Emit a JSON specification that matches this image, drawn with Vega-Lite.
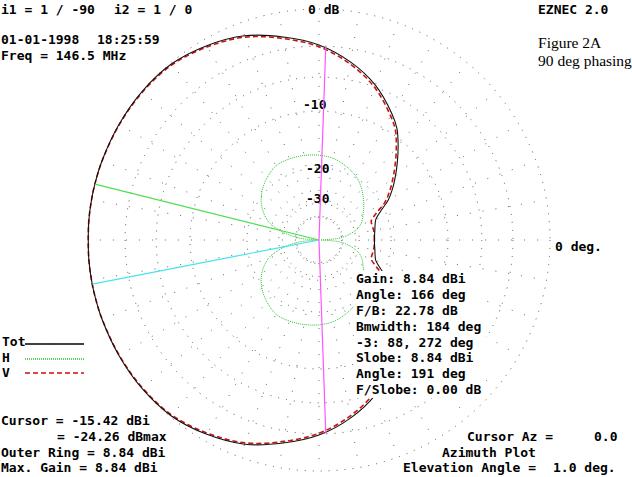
{
  "$schema": "https://vega.github.io/schema/vega-lite/v6.json",
  "width": 632,
  "height": 477,
  "autosize": {"type": "fit", "contains": "padding"},
  "padding": 0,
  "background": "white",
  "config": {"view": {"stroke": null}},
  "datasets": {
    "pattern": [
      {"az": 0, "tot": -24.5, "v": -24.5, "h": -80},
      {"az": 5, "tot": -24.4, "v": -24.48, "h": -42},
      {"az": 10, "tot": -24.1, "v": -24.47, "h": -35},
      {"az": 15, "tot": -23.7, "v": -24.59, "h": -31},
      {"az": 20, "tot": -23.0, "v": -24.44, "h": -28.5},
      {"az": 25, "tot": -21.0, "v": -22.26, "h": -27},
      {"az": 30, "tot": -18.2, "v": -18.99, "h": -26},
      {"az": 35, "tot": -16.2, "v": -16.85, "h": -24.8},
      {"az": 40, "tot": -14.4, "v": -14.96, "h": -23.6},
      {"az": 45, "tot": -12.6, "v": -13.07, "h": -22.5},
      {"az": 50, "tot": -10.8, "v": -11.2, "h": -21.4},
      {"az": 55, "tot": -9.1, "v": -9.43, "h": -20.4},
      {"az": 60, "tot": -7.9, "v": -8.2, "h": -19.6},
      {"az": 70, "tot": -5.8, "v": -6.04, "h": -18.5},
      {"az": 80, "tot": -4.2, "v": -4.4, "h": -17.6},
      {"az": 90, "tot": -2.9, "v": -3.06, "h": -17.2},
      {"az": 100, "tot": -1.95, "v": -2.09, "h": -17.0},
      {"az": 110, "tot": -1.05, "v": -1.16, "h": -16.9},
      {"az": 120, "tot": -0.5, "v": -0.6, "h": -17.0},
      {"az": 130, "tot": -0.1, "v": -0.17, "h": -18.0},
      {"az": 140, "tot": 0, "v": -0.05, "h": -19.4},
      {"az": 150, "tot": 0, "v": -0.03, "h": -21.5},
      {"az": 160, "tot": 0, "v": -0.01, "h": -25},
      {"az": 166, "tot": 0, "v": 0, "h": -29.5},
      {"az": 170, "tot": 0, "v": 0, "h": -34},
      {"az": 175, "tot": 0, "v": 0, "h": -44},
      {"az": 180, "tot": -0.02, "v": -0.02, "h": -80},
      {"az": 185, "tot": 0, "v": 0, "h": -44},
      {"az": 190, "tot": 0, "v": 0, "h": -34},
      {"az": 194, "tot": 0, "v": 0, "h": -29.5},
      {"az": 200, "tot": 0, "v": -0.01, "h": -25},
      {"az": 210, "tot": 0, "v": -0.03, "h": -21.5},
      {"az": 220, "tot": 0, "v": -0.05, "h": -19.4},
      {"az": 230, "tot": -0.1, "v": -0.17, "h": -18.0},
      {"az": 240, "tot": -0.5, "v": -0.6, "h": -17.0},
      {"az": 250, "tot": -1.05, "v": -1.16, "h": -16.9},
      {"az": 260, "tot": -1.95, "v": -2.09, "h": -17.0},
      {"az": 270, "tot": -2.9, "v": -3.06, "h": -17.2},
      {"az": 280, "tot": -4.2, "v": -4.4, "h": -17.6},
      {"az": 290, "tot": -5.8, "v": -6.04, "h": -18.5},
      {"az": 300, "tot": -7.9, "v": -8.2, "h": -19.6},
      {"az": 305, "tot": -9.1, "v": -9.43, "h": -20.4},
      {"az": 310, "tot": -10.8, "v": -11.2, "h": -21.4},
      {"az": 315, "tot": -12.6, "v": -13.07, "h": -22.5},
      {"az": 320, "tot": -14.4, "v": -14.96, "h": -23.6},
      {"az": 325, "tot": -16.2, "v": -16.85, "h": -24.8},
      {"az": 330, "tot": -18.2, "v": -18.99, "h": -26},
      {"az": 335, "tot": -21.0, "v": -22.26, "h": -27},
      {"az": 340, "tot": -23.0, "v": -24.44, "h": -28.5},
      {"az": 345, "tot": -23.7, "v": -24.59, "h": -31},
      {"az": 350, "tot": -24.1, "v": -24.47, "h": -35},
      {"az": 355, "tot": -24.4, "v": -24.48, "h": -42},
      {"az": 360, "tot": -24.5, "v": -24.5, "h": -80}
    ],
    "rings": [{"db": 0}, {"db": -3}, {"db": -6}, {"db": -10}, {"db": -20}, {"db": -30}, {"db": -40}],
    "spokes": [
      {"az": 0}, {"az": 10}, {"az": 20}, {"az": 30}, {"az": 40}, {"az": 50}, {"az": 60}, {"az": 70}, {"az": 80},
      {"az": 90}, {"az": 100}, {"az": 110}, {"az": 120}, {"az": 130}, {"az": 140}, {"az": 150}, {"az": 160}, {"az": 170},
      {"az": 180}, {"az": 190}, {"az": 200}, {"az": 210}, {"az": 220}, {"az": 230}, {"az": 240}, {"az": 250}, {"az": 260},
      {"az": 270}, {"az": 280}, {"az": 290}, {"az": 300}, {"az": 310}, {"az": 320}, {"az": 330}, {"az": 340}, {"az": 350}
    ],
    "rays": [
      {"ray": "Max gain", "az": 166, "db": 0},
      {"ray": "Slobe", "az": 191, "db": 0},
      {"ray": "Beamwidth", "az": 88, "db": -3},
      {"ray": "Beamwidth", "az": 272, "db": -3}
    ],
    "labels": [
      {"t": "i1 = 1 / -90", "x": -1.3766, "y": 0.9957},
      {"t": "i2 = 1 / 0", "x": -0.8874, "y": 0.9957},
      {"t": "0 dB", "x": -0.0476, "y": 0.9957},
      {"t": "EZNEC 2.0", "x": 0.9481, "y": 0.9957},
      {"t": "01-01-1998", "x": -1.3766, "y": 0.8658},
      {"t": "18:25:59", "x": -0.961, "y": 0.8658},
      {"t": "Freq = 146.5 MHz", "x": -1.3766, "y": 0.7965},
      {"t": "-10", "x": -0.0693, "y": 0.5844},
      {"t": "-20", "x": -0.0563, "y": 0.3074},
      {"t": "-30", "x": -0.0563, "y": 0.1775},
      {"t": "0 deg.", "x": 1.0216, "y": -0.0303},
      {"t": "Tot", "x": -1.3723, "y": -0.4416},
      {"t": "H", "x": -1.3723, "y": -0.5108},
      {"t": "V", "x": -1.3723, "y": -0.5758},
      {"t": "Cursor = -15.42 dBi", "x": -1.3766, "y": -0.7835},
      {"t": "= -24.26 dBmax", "x": -1.1342, "y": -0.8528},
      {"t": "Outer Ring = 8.84 dBi", "x": -1.3766, "y": -0.9221},
      {"t": "Max. Gain = 8.84 dBi", "x": -1.3766, "y": -0.987},
      {"t": "Cursor Az =", "x": 0.6407, "y": -0.8528},
      {"t": "0.0", "x": 1.1905, "y": -0.8528},
      {"t": "Azimuth Plot", "x": 0.5325, "y": -0.9221},
      {"t": "Elevation Angle =", "x": 0.3636, "y": -0.987},
      {"t": "1.0 deg.", "x": 1.013, "y": -0.987}
    ],
    "stats": [
      {"t": "Gain: 8.84 dBi", "x": 0.1602, "y": -0.1688},
      {"t": "Angle: 166 deg", "x": 0.1602, "y": -0.2381},
      {"t": "F/B: 22.78 dB", "x": 0.1602, "y": -0.3074},
      {"t": "Bmwidth: 184 deg", "x": 0.1602, "y": -0.3766},
      {"t": "-3: 88, 272 deg", "x": 0.1602, "y": -0.4459},
      {"t": "Slobe: 8.84 dBi", "x": 0.1602, "y": -0.5108},
      {"t": "Angle: 191 deg", "x": 0.1602, "y": -0.5801},
      {"t": "F/Slobe: 0.00 dB", "x": 0.1602, "y": -0.6494}
    ],
    "notes": [
      {"t": "Figure 2A", "x": 0.9481, "y": 0.8528},
      {"t": "90 deg phasing", "x": 0.9481, "y": 0.7749}
    ],
    "legend": [
      {"series": "Tot", "y": -0.4502},
      {"series": "H", "y": -0.5152},
      {"series": "V", "y": -0.5758}
    ]
  },
  "layer": [
    {
      "data": {"name": "spokes"},
      "transform": [
        {"calculate": "0.1*cos(datum.az*PI/180)", "as": "x1"},
        {"calculate": "0.1*sin(datum.az*PI/180)", "as": "y1"},
        {"calculate": "cos(datum.az*PI/180)", "as": "x2"},
        {"calculate": "sin(datum.az*PI/180)", "as": "y2"}
      ],
      "mark": {"type": "rule", "color": "#666666", "strokeWidth": 1, "strokeDash": [1, 12]},
      "encoding": {
        "x": {"field": "x1", "type": "quantitative", "scale": {"domain": [-1.38095, 1.35498], "nice": false, "zero": false}, "axis": null},
        "y": {"field": "y1", "type": "quantitative", "scale": {"domain": [-1.02597, 1.03896], "nice": false, "zero": false}, "axis": null},
        "x2": {"field": "x2"},
        "y2": {"field": "y2"}
      }
    },
    {
      "data": {"name": "rings"},
      "transform": [
        {"calculate": "exp(0.058266*datum.db)", "as": "r"},
        {"calculate": "0", "as": "cx"}
      ],
      "mark": {"type": "point", "shape": "circle", "filled": false, "stroke": "#555555", "strokeWidth": 1, "strokeDash": [1, 7], "opacity": 1},
      "encoding": {
        "x": {"field": "cx", "type": "quantitative"},
        "y": {"field": "cx", "type": "quantitative"},
        "size": {"field": "r", "type": "quantitative", "scale": {"type": "pow", "exponent": 2, "domain": [0, 1], "range": [0, 213444], "zero": true}, "legend": null}
      }
    },
    {
      "data": {"name": "labels"},
      "mark": {"type": "text", "font": "DejaVu Sans Mono", "fontWeight": "bold", "fontSize": 13, "align": "left", "baseline": "middle", "color": "black"},
      "encoding": {
        "x": {"field": "x", "type": "quantitative"},
        "y": {"field": "y", "type": "quantitative"},
        "text": {"field": "t"}
      }
    },
    {
      "data": {"name": "notes"},
      "mark": {"type": "text", "font": "Liberation Serif", "fontSize": 15.5, "align": "left", "baseline": "middle", "color": "black"},
      "encoding": {
        "x": {"field": "x", "type": "quantitative"},
        "y": {"field": "y", "type": "quantitative"},
        "text": {"field": "t"}
      }
    },
    {
      "data": {"name": "pattern"},
      "transform": [
        {"calculate": "exp(0.058266*datum.h)", "as": "r"},
        {"calculate": "datum.r*cos(datum.az*PI/180)", "as": "px"},
        {"calculate": "datum.r*sin(datum.az*PI/180)", "as": "py"}
      ],
      "mark": {"type": "line", "color": "#2ec02e", "strokeWidth": 1, "strokeDash": [1, 1], "interpolate": "catmull-rom"},
      "encoding": {
        "x": {"field": "px", "type": "quantitative"},
        "y": {"field": "py", "type": "quantitative"},
        "order": {"field": "az", "type": "quantitative"}
      }
    },
    {
      "data": {"name": "pattern"},
      "transform": [
        {"calculate": "exp(0.058266*datum.v)", "as": "r"},
        {"calculate": "datum.r*cos(datum.az*PI/180)", "as": "px"},
        {"calculate": "datum.r*sin(datum.az*PI/180)", "as": "py"}
      ],
      "mark": {"type": "line", "color": "#cc1111", "strokeWidth": 1.6, "strokeDash": [5, 3], "interpolate": "catmull-rom"},
      "encoding": {
        "x": {"field": "px", "type": "quantitative"},
        "y": {"field": "py", "type": "quantitative"},
        "order": {"field": "az", "type": "quantitative"}
      }
    },
    {
      "data": {"name": "pattern"},
      "transform": [
        {"calculate": "exp(0.058266*datum.tot)", "as": "r"},
        {"calculate": "datum.r*cos(datum.az*PI/180)", "as": "px"},
        {"calculate": "datum.r*sin(datum.az*PI/180)", "as": "py"}
      ],
      "mark": {"type": "line", "color": "#111111", "strokeWidth": 1.1, "interpolate": "catmull-rom"},
      "encoding": {
        "x": {"field": "px", "type": "quantitative"},
        "y": {"field": "py", "type": "quantitative"},
        "order": {"field": "az", "type": "quantitative"}
      }
    },
    {
      "data": {"values": [{"x": 0.1515, "x2": 0.7229, "y": -0.1342, "y2": -0.684}]},
      "mark": {"type": "rect", "color": "white"},
      "encoding": {
        "x": {"field": "x", "type": "quantitative"},
        "x2": {"field": "x2"},
        "y": {"field": "y", "type": "quantitative"},
        "y2": {"field": "y2"}
      }
    },
    {
      "data": {"name": "stats"},
      "mark": {"type": "text", "font": "DejaVu Sans Mono", "fontWeight": "bold", "fontSize": 13, "align": "left", "baseline": "middle", "color": "black"},
      "encoding": {
        "x": {"field": "x", "type": "quantitative"},
        "y": {"field": "y", "type": "quantitative"},
        "text": {"field": "t"}
      }
    },
    {
      "data": {"name": "rays"},
      "transform": [
        {"calculate": "0", "as": "ox"},
        {"calculate": "exp(0.058266*datum.db)*cos(datum.az*PI/180)", "as": "ex"},
        {"calculate": "exp(0.058266*datum.db)*sin(datum.az*PI/180)", "as": "ey"}
      ],
      "mark": {"type": "rule", "strokeWidth": 1.2},
      "encoding": {
        "x": {"field": "ox", "type": "quantitative"},
        "y": {"field": "ox", "type": "quantitative"},
        "x2": {"field": "ex"},
        "y2": {"field": "ey"},
        "color": {"field": "ray", "type": "nominal", "scale": {"domain": ["Max gain", "Slobe", "Beamwidth"], "range": ["#4ee04e", "#44e4ee", "#ff55ff"]}, "legend": null}
      }
    },
    {
      "data": {"name": "legend"},
      "transform": [
        {"calculate": "-1.2727", "as": "lx1"},
        {"calculate": "-1.0173", "as": "lx2"}
      ],
      "mark": {"type": "rule", "strokeWidth": 1.6},
      "encoding": {
        "x": {"field": "lx1", "type": "quantitative"},
        "x2": {"field": "lx2"},
        "y": {"field": "y", "type": "quantitative"},
        "stroke": {"field": "series", "type": "nominal", "scale": {"domain": ["Tot", "H", "V"], "range": ["#000000", "#2ec02e", "#cc1111"]}, "legend": null},
        "strokeDash": {"field": "series", "type": "nominal", "scale": {"domain": ["Tot", "H", "V"], "range": [[1, 0], [1, 1], [5, 3]]}, "legend": null}
      }
    }
  ]
}
